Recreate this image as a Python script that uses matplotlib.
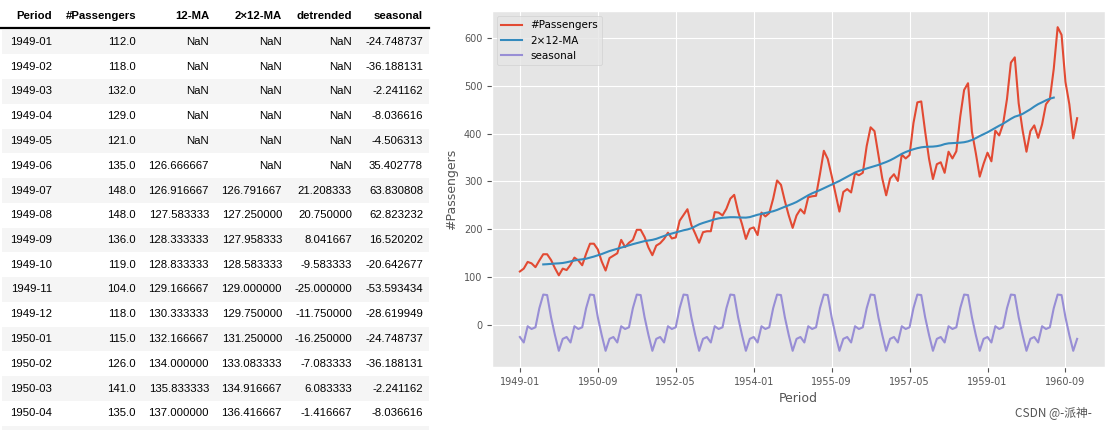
import numpy as np
import pandas as pd
import matplotlib
matplotlib.use('Agg')
import matplotlib.pyplot as plt
from matplotlib.patches import Rectangle

# monthly airline passengers 1949-01 .. 1960-12
passengers = [
    112, 118, 132, 129, 121, 135, 148, 148, 136, 119, 104, 118,
    115, 126, 141, 135, 125, 149, 170, 170, 158, 133, 114, 140,
    145, 150, 178, 163, 172, 178, 199, 199, 184, 162, 146, 166,
    171, 180, 193, 181, 183, 218, 230, 242, 209, 191, 172, 194,
    196, 196, 236, 235, 229, 243, 264, 272, 237, 211, 180, 201,
    204, 188, 235, 227, 234, 264, 302, 293, 259, 229, 203, 229,
    242, 233, 267, 269, 270, 315, 364, 347, 312, 274, 237, 278,
    284, 277, 317, 313, 318, 374, 413, 405, 355, 306, 271, 306,
    315, 301, 356, 348, 355, 422, 465, 467, 404, 347, 305, 336,
    340, 318, 362, 348, 363, 435, 491, 505, 404, 359, 310, 337,
    360, 342, 406, 396, 420, 472, 548, 559, 463, 407, 362, 405,
    417, 391, 419, 461, 472, 535, 622, 606, 508, 461, 390, 432,
]
periods = [f'{y}-{m:02d}' for y in range(1949, 1961) for m in range(1, 13)]

# seasonal index per calendar month
seasonal_month = [-24.748737, -36.188131, -2.241162, -8.036616, -4.506313, 35.402778,
                  63.830808, 62.823232, 16.520202, -20.642677, -53.593434, -28.619949]

columns = ['#Passengers', '12-MA', '2\u00d712-MA', 'detrended', 'seasonal']

df = pd.DataFrame({'#Passengers': np.array(passengers, dtype=float)}, index=periods)
df.index.name = 'Period'
df['12-MA'] = df['#Passengers'].rolling(12).mean().shift(-6)
df['2\u00d712-MA'] = df['12-MA'].rolling(2).mean()
df['detrended'] = df['#Passengers'] - df['2\u00d712-MA']
df['seasonal'] = np.tile(seasonal_month, 12)

W, H = 1106, 430
plt.style.use('ggplot')
fig = plt.figure(figsize=(W / 100, H / 100), dpi=100)

# ---- left: dataframe table ----
def px(x, y):
    return x / W, 1 - y / H

tfont = dict(family='Liberation Sans', fontsize=8.2, color='black')
col_right = [52, 136, 209, 282, 352, 423]
header_y = 16
row0_y = 42
row_h = 24.75
table_left, table_right = 2, 429
n_rows = 16  # rows fully visible in the screenshot

for i in range(n_rows + 1):
    yc = row0_y + i * row_h
    if i % 2 == 0:
        x0, y0 = px(table_left, yc + row_h / 2)
        fig.patches.append(Rectangle((x0, y0), (table_right - table_left) / W, row_h / H,
                                     transform=fig.transFigure, facecolor='#f5f5f5',
                                     edgecolor='none', zorder=0))

hx0, hy = px(0, 28)
fig.add_artist(plt.Line2D([0, table_right / W], [hy, hy], color='black', lw=1.6,
                          transform=fig.transFigure))

headers = ['Period'] + columns
for xr, h in zip(col_right, headers):
    fig.text(*px(xr, header_y), h, ha='right', va='center', fontweight='bold', **tfont)

for i in range(n_rows):
    yc = row0_y + i * row_h
    row = df.iloc[i]
    cells = [df.index[i], f"{row['#Passengers']:.1f}"]
    for c in columns[1:]:
        v = row[c]
        cells.append('NaN' if np.isnan(v) else f'{v:.6f}')
    for xr, t in zip(col_right, cells):
        fig.text(*px(xr, yc), t, ha='right', va='center', **tfont)

# ---- right: line chart ----
ax = fig.add_axes([492 / W, 1 - 367 / H, 613 / W, 356 / H])
x = np.arange(len(periods))
ax.plot(x, df['#Passengers'], label='#Passengers')
ax.plot(x, df['2\u00d712-MA'], label='2\u00d712-MA')
ax.plot(x, df['seasonal'], label='seasonal')

ticks = x[::20]
ax.set_xticks(ticks)
ax.set_xticklabels([periods[t] for t in ticks])
ax.set_yticks(range(0, 700, 100))
ax.tick_params(labelsize=7)
ax.set_xlabel('Period', fontsize=9)
ax.set_ylabel('#Passengers', fontsize=9)
ax.legend(loc='upper left', fontsize=7.5)

fig.text(1092 / W, 1 - 413 / H, 'CSDN @-派神-', ha='right', va='center',
         fontsize=8.5, color='#555555', family=['Noto Sans CJK SC', 'DejaVu Sans'])

fig.savefig('out.png', dpi=100)
